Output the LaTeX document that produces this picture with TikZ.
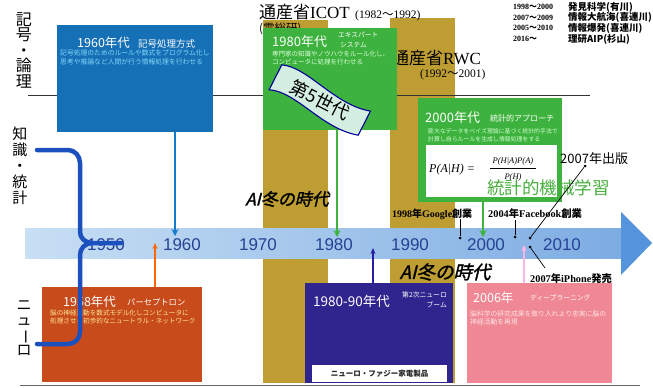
\documentclass[tikz,border=0pt]{standalone}
\usepackage{fontspec}
\usepackage{graphicx}
\setmainfont{Liberation Sans}
\newfontfamily\jp{Noto Sans CJK JP}
\newfontfamily\jpsl{Noto Sans CJK JP}[FakeSlant=0.25,FakeBold=1.5]
\newfontfamily\lserif{Liberation Serif}
\usetikzlibrary{arrows.meta}
\newcommand\fsz[1]{\fontsize{#1}{#1}\selectfont}
\definecolor{gold}{RGB}{190,158,50}
\definecolor{boxblue}{RGB}{22,112,182}
\definecolor{grn}{RGB}{62,178,62}
\definecolor{orng}{RGB}{200,75,28}
\definecolor{navy}{RGB}{48,36,142}
\definecolor{pinkbox}{RGB}{240,135,148}
\definecolor{bandL}{RGB}{200,223,244}
\definecolor{bandR}{RGB}{125,172,226}
\definecolor{headblue}{RGB}{85,148,218}
\definecolor{yearblue}{RGB}{38,66,148}
\definecolor{bracecol}{RGB}{28,80,190}
\definecolor{cyantxt}{RGB}{130,215,250}
\definecolor{mint}{RGB}{212,238,226}
\definecolor{greentxt}{RGB}{70,175,60}
\tikzset{
  box/.style={anchor=north west, inner sep=0pt, outer sep=0pt},
  lbl/.style={anchor=west, inner sep=0pt},
  yr/.style={font=\fsz{17}, text=yearblue, inner sep=0pt},
  arr/.style={line width=1.5, -{Stealth[length=7pt,width=7pt]}},
  pt/.style={circle, fill=black, inner sep=0pt, minimum size=3pt},
  vert/.style={align=center, inner sep=0pt},
}
\begin{document}
\begin{tikzpicture}[x=1pt,y=-1pt]
\useasboundingbox (0,0) rectangle (653,388);
\fill[white] (0,0) rectangle (653,388);

% gold columns
\fill[gold] (263,20) rectangle (328,383);
\fill[gold] (390,18) rectangle (455,383);

% horizontal rules
\coordinate (r1a) at (28,95); \coordinate (r1b) at (590,95);
\coordinate (r2a) at (20,385); \coordinate (r2b) at (640,385);
\draw[line width=0.8, black!80] (r1a) -- (r1b);
\draw[line width=0.8, black!60] (r2a) -- (r2b);

% left vertical labels
\node[vert, font=\jp\fontsize{16}{15.5}\selectfont] (kigou) at (24,50) {記\\号\\・\\論\\理};
\node[vert, font=\jp\fontsize{15}{16}\selectfont] (chishiki) at (20,166) {知\\識\\・\\統\\計};
\node[vert, font=\jp\fontsize{15}{15}\selectfont] (neuro) at (24,328) {ニ\\ュ\\\rotatebox[origin=c]{-90}{ー}\\ロ};

% titles
\node[anchor=base west, inner sep=0pt, font=\fsz{17}] (icot) at (259,19) {{\jp 通産省}{\lserif ICOT}};
\node[anchor=base west, inner sep=0pt, font=\fsz{11.5}] (icoty) at (355,18) {{\lserif (1982}{\jp ～}{\lserif 1992)}};
\node[anchor=west, inner sep=0pt, font=\jp\fsz{11.5}] (densoken) at (259,29) {(電総研)};
\node[anchor=base west, inner sep=0pt, font=\fsz{17}] (rwc) at (392,64) {{\jp 通産省}{\lserif RWC}};
\node[anchor=base west, inner sep=0pt, font=\fsz{11.5}] (rwcy) at (420,77) {{\lserif (1992}{\jp ～}{\lserif 2001)}};

% top-right list
\begin{scope}[every node/.style={anchor=west, inner sep=0pt}]
\node[font=\lserif\bfseries\fsz{8}] (y1) at (513,7) {1998{\jp ～}2000};
\node[font=\lserif\bfseries\fsz{8}] (y2) at (513,17.5) {2007{\jp ～}2009};
\node[font=\lserif\bfseries\fsz{8}] (y3) at (513,28) {2005{\jp ～}2010};
\node[font=\lserif\bfseries\fsz{8}] (y4) at (513,39) {2016{\jp ～}};
\node[font=\jp\bfseries\fsz{9.5}] (n1) at (568,7) {発見科学(有川)};
\node[font=\jp\bfseries\fsz{9.5}] (n2) at (568,17.5) {情報大航海(喜連川)};
\node[font=\jp\bfseries\fsz{9.5}] (n3) at (568,28) {情報爆発(喜連川)};
\node[font=\jp\bfseries\fsz{9.5}] (n4) at (568,39) {理研AIP(杉山)};
\end{scope}

% 1960 box
\node[box, fill=boxblue, minimum width=156, minimum height=107] (b60) at (57,25) {};
\node[lbl, font=\jp\fsz{12.5}, text=white] (t60) at (77,43) {1960年代};
\node[lbl, font=\jp\fsz{9.5}, text=white] (s60) at (138,43.5) {記号処理方式};
\node[lbl, font=\jp\fsz{6.8}, text=cyantxt] (l60a) at (60,53) {記号処理のためのルールや数式をプログラム化し};
\node[lbl, font=\jp\fsz{6.8}, text=cyantxt] (l60b) at (60,62) {思考や推論など人間が行う情報処理を行わせる};

% 1980 box
\node[box, fill=grn, minimum width=134, minimum height=102] (b80) at (263,28) {};
\node[lbl, font=\jp\fsz{13}, text=white] (t80) at (272,42) {1980年代};
\node[lbl, font=\jp\fsz{6.7}, text=white] (s80a) at (338,35) {エキスパート};
\node[lbl, font=\jp\fsz{6.7}, text=white] (s80b) at (340,45) {システム};
\node[lbl, font=\jp\fsz{6.5}, text=white!85!green] (l80a) at (272,54.5) {専門家の知識やノウハウをルール化し、};
\node[lbl, font=\jp\fsz{6.5}, text=white!85!green] (l80b) at (272,62.5) {コンピュータに処理を行わせる};

% banner 5th generation
\begin{scope}[shift={(320,100)}, rotate=-27]
\draw[fill=mint, draw=blue!60!black, line width=1.1]
  (-50,-14) .. controls (-25,-24) and (15,-2) .. (50,-13)
  -- (50,14) .. controls (15,25) and (-25,3) .. (-50,14) -- cycle;
\node[transform shape, font=\jp\fsz{18}, inner sep=0pt] (gen5) at (0,0) {第5世代};
\end{scope}

% 2000 box
\node[box, fill=grn, minimum width=144, minimum height=104] (b00) at (418,98) {};
\node[lbl, font=\jp\fsz{13}, text=white] (t00) at (425,117.5) {2000年代};
\node[lbl, font=\jp\fsz{8}, text=white] (s00) at (490,118.5) {統計的アプローチ};
\node[lbl, font=\jp\fsz{5.9}, text=white!80!green] (l00a) at (428,131) {膨大なデータをベイズ理論に基づく統計的手法で};
\node[lbl, font=\jp\fsz{5.9}, text=white!80!green] (l00b) at (428,139.5) {計算し自らルールを生成し情報処理をする};
\node[box, fill=white, minimum width=131, minimum height=52] (fbox) at (426,145) {};
\node[lbl, font=\lserif\itshape\fsz{12}] (f1) at (429,170) {P(A|H) =};
\node[inner sep=0pt, font=\lserif\itshape\fsz{8.5}] (fnum) at (513,161) {P(H|A)P(A)};
\node[inner sep=0pt, font=\lserif\itshape\fsz{8.5}] (fden) at (513,177) {P(H)};
\draw[line width=0.5] ([xshift=-3pt,yshift=-3pt]fnum.south west) -- ([xshift=3pt,yshift=-3pt]fnum.south east);
\node[anchor=base west, inner sep=0pt, font=\jp\fsz{17.5}, text=greentxt] (ml) at (487,194) {統計的機械学習};
\node[anchor=base west, inner sep=0pt, font=\jp\fsz{13}] (pub) at (560,163) {2007年出版};

% 1958 box
\node[box, fill=orng, minimum width=160, minimum height=95] (b58) at (42,287) {};
\node[lbl, font=\jp\fsz{12.5}, text=white] (t58) at (63,302) {1958年代};
\node[lbl, font=\jp\fsz{8.3}, text=white] (s58) at (127,302.5) {パーセプトロン};
\node[lbl, font=\jp\fsz{6.6}, text=yellow!60!orange!40!white] (l58a) at (50,313) {脳の神経活動を数式モデル化しコンピュータに};
\node[lbl, font=\jp\fsz{6.6}, text=yellow!60!orange!40!white] (l58b) at (50,321) {処理させる初歩的なニュートラル・ネットワーク};

% 1980-90 box
\node[box, fill=navy, minimum width=148, minimum height=100] (b8090) at (305,283) {};
\node[lbl, font=\jp\fsz{13.5}, text=white] (t8090) at (313,301) {1980-90年代};
\node[anchor=east, inner sep=0pt, font=\jp\fsz{6.8}, text=white] (s8090a) at (447,295) {第2次ニューロ};
\node[anchor=east, inner sep=0pt, font=\jp\fsz{6.8}, text=white] (s8090b) at (447,304.5) {ブーム};
\node[box, fill=white, minimum width=135, minimum height=17] (kaden) at (312,365) {};
\node[inner sep=0pt, font=\jp\bfseries\fsz{7.5}, text=black!85] (kadent) at (kaden.center) {ニューロ・ファジー家電製品};

% 2006 box
\node[box, fill=pinkbox, minimum width=145, minimum height=100] (b06) at (467,283) {};
\node[lbl, font=\jp\fsz{12.5}, text=white] (t06) at (473,297.5) {2006年};
\node[lbl, font=\jp\fsz{6.8}, text=white] (s06) at (530,297.5) {ディープラーニング};
\node[lbl, font=\jp\fsz{6.8}, text=pink!40!white] (l06a) at (470,313.5) {脳科学の研究成果を取り入れより忠実に脳の};
\node[lbl, font=\jp\fsz{6.8}, text=pink!40!white] (l06b) at (470,321.5) {神経活動を再現};

% timeline band
\shade[left color=bandL, right color=bandR] (25,228) rectangle (622,258);
\fill[headblue] (621,212) -- (652,243) -- (621,275) -- cycle;
\node[yr] (y1950) at (106,245) {1950};
\node[yr] (y1960) at (182,245) {1960};
\node[yr] (y1970) at (258,245) {1970};
\node[yr] (y1980) at (334,245) {1980};
\node[yr] (y1990) at (410,245) {1990};
\node[yr] (y2000) at (486,245) {2000};
\node[yr] (y2010) at (562,245) {2010};

% arrows
\coordinate (a60) at (175,236);
\draw[arr, draw=cyan!60!blue] (b60.south -| a60) -- (a60);
\coordinate (a80) at (337,237);
\draw[arr, draw=grn] (b80.south -| a80) -- (a80);
\coordinate (a00) at (483,237);
\draw[arr, draw=grn] (b00.south -| a00) -- (a00);
\coordinate (a58) at (155,243);
\draw[line width=1.1, -{Stealth[length=6pt,width=5pt]}, draw=orange!80!red] (b58.north -| a58) -- (a58);
\coordinate (a8090) at (373,248);
\draw[line width=1.2, -{Stealth[length=6pt,width=5pt]}, draw=navy!80!blue] (b8090.north -| a8090) -- (a8090);
\coordinate (a06) at (524,245);
\draw[line width=1.2, -{Stealth[length=6pt,width=5pt]}, draw=pink!70!magenta!60!white] (b06.north -| a06) -- (a06);

% brace
\draw[bracecol, line width=4.5, line cap=round, line join=round]
  (37,150) -- (68,150) to[out=0,in=90] (80,163) -- (80,232) to[out=-90,in=180] (92,243) -- (121,243);
\draw[bracecol, line width=4.5, line cap=round, line join=round]
  (92,243) to[out=180,in=90] (80,255) -- (80,332) to[out=-90,in=0] (68,344) -- (37,344);

% AI winter labels
\node[inner sep=0pt, font=\jpsl\fsz{17}] (win1) at (287,199) {AI冬の時代};
\node[inner sep=0pt, font=\jpsl\fsz{18.5}] (win2) at (445,272) {AI冬の時代};

% events
\node[anchor=base west, inner sep=0pt, font=\bfseries\fsz{10}] (google) at (392,217) {{\lserif 1998}{\jp 年}{\lserif Google}{\jp 創業}};
\node[anchor=base west, inner sep=0pt, font=\bfseries\fsz{10.3}] (fb) at (488,217) {{\lserif 2004}{\jp 年}{\lserif Facebook}{\jp 創業}};
\node[anchor=base west, inner sep=0pt, font=\bfseries\fsz{10.3}] (iphone) at (530,282) {{\lserif 2007}{\jp 年}{\lserif iPhone}{\jp 発売}};
\node[pt] (dg) at (460,238) {};
\node[pt] (dfb) at (515,237) {};
\node[pt] (dpub) at (530,238) {};
\node[pt] (dip) at (530,247) {};
\node[pt] (dpubtop) at (585,166) {};
\coordinate (gtop) at (460,219);
\coordinate (fbtop) at (515,220);
\coordinate (iptop) at (545,268);
\draw[line width=0.7] (gtop) -- (dg);
\draw[line width=0.7] (fbtop) -- (dfb);
\draw[line width=0.7] (dpubtop) -- (dpub);
\draw[line width=0.7] (dip) -- (iptop);
\end{tikzpicture}
\end{document}
